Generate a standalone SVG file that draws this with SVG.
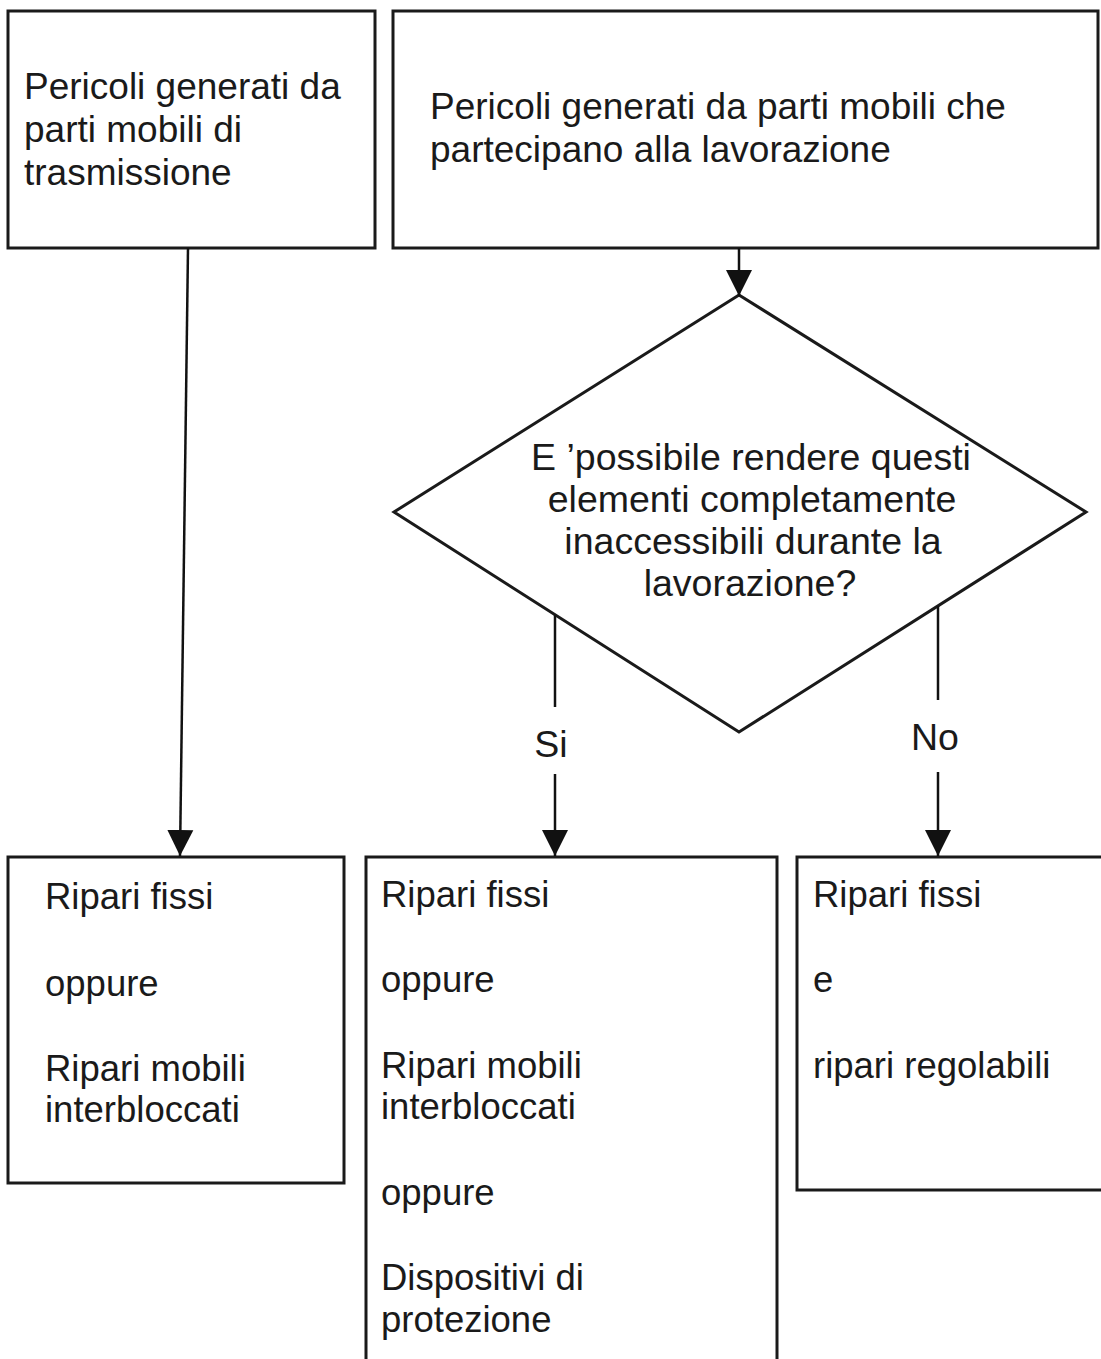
<svg xmlns="http://www.w3.org/2000/svg" width="1101" height="1359" viewBox="0 0 1101 1359">
<style>
.box{fill:#fff;stroke:#1a1a1a;stroke-width:3}
.t{font-family:"Liberation Sans",Arial,sans-serif;fill:#1a1a1a}
.big{font-size:37px}
.mid{font-size:37.5px}
.sm{font-size:36.5px}
.c{text-anchor:middle}
.conn{fill:none;stroke:#111;stroke-width:2.5}
</style>
<defs>
<marker id="arr" markerUnits="userSpaceOnUse" markerWidth="26" markerHeight="28" refX="26" refY="13" orient="auto" viewBox="0 0 26 26">
<path d="M0,0 L26,13 L0,26 z" fill="#111"/>
</marker>
</defs>
<rect width="1101" height="1359" fill="#fff"/>

<g id="n1">
<rect class="box" x="8" y="11" width="367" height="237"/>
<text class="t big" x="24" y="99">Pericoli generati da</text>
<text class="t big" x="24" y="142">parti mobili di</text>
<text class="t big" x="24" y="185">trasmissione</text>
</g>

<g id="n2">
<rect class="box" x="393" y="11" width="705" height="237"/>
<text class="t big" x="430" y="119">Pericoli generati da parti mobili che</text>
<text class="t big" x="430" y="162">partecipano alla lavorazione</text>
</g>

<g id="n3">
<polygon class="box" points="739,295 1086,512 739,732 394,512"/>
<text class="t mid c" x="751" y="470">E ’possibile rendere questi</text>
<text class="t mid c" x="752" y="512">elementi completamente</text>
<text class="t mid c" x="753" y="554">inaccessibili durante la</text>
<text class="t mid c" x="750" y="596">lavorazione?</text>
</g>

<g id="n4">
<rect class="box" x="8" y="857" width="336" height="326"/>
<text class="t sm" x="45" y="909">Ripari fissi</text>
<text class="t sm" x="45" y="996">oppure</text>
<text class="t sm" x="45" y="1081">Ripari mobili</text>
<text class="t sm" x="45" y="1122">interbloccati</text>
</g>

<g id="n5">
<rect class="box" x="366" y="857" width="411" height="520"/>
<text class="t sm" x="381" y="907">Ripari fissi</text>
<text class="t sm" x="381" y="992">oppure</text>
<text class="t sm" x="381" y="1078">Ripari mobili</text>
<text class="t sm" x="381" y="1119">interbloccati</text>
<text class="t sm" x="381" y="1205">oppure</text>
<text class="t sm" x="381" y="1290">Dispositivi di</text>
<text class="t sm" x="381" y="1332">protezione</text>
</g>

<g id="n6">
<rect class="box" x="797" y="857" width="320" height="333"/>
<text class="t sm" x="813" y="907">Ripari fissi</text>
<text class="t sm" x="813" y="992">e</text>
<text class="t sm" x="813" y="1078">ripari regolabili</text>
</g>

<g id="connectors">
<line class="conn" x1="188" y1="248" x2="180" y2="856" marker-end="url(#arr)"/>
<line class="conn" x1="739" y1="248" x2="739" y2="296" marker-end="url(#arr)"/>
<line class="conn" x1="555" y1="615" x2="555" y2="707"/>
<line class="conn" x1="555" y1="774" x2="555" y2="856" marker-end="url(#arr)"/>
<text class="t mid c" x="551" y="757">Si</text>
<line class="conn" x1="938" y1="606" x2="938" y2="700"/>
<line class="conn" x1="938" y1="772" x2="938" y2="856" marker-end="url(#arr)"/>
<text class="t mid c" x="935" y="750">No</text>
</g>
</svg>
